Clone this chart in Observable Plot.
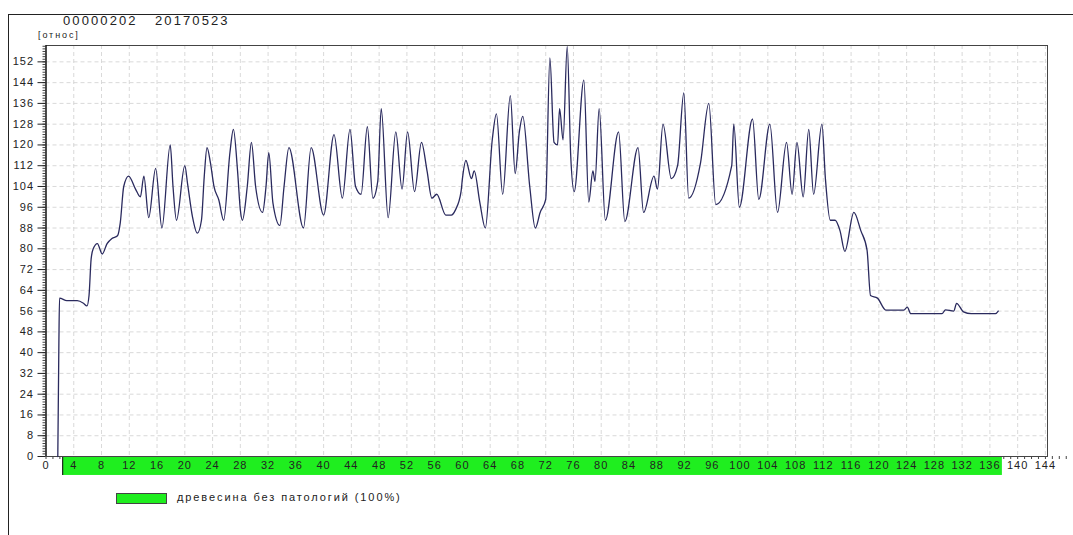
<!DOCTYPE html>
<html><head><meta charset="utf-8">
<script src="https://cdn.jsdelivr.net/npm/d3@7"></script>
<script src="https://cdn.jsdelivr.net/npm/@observablehq/plot@0.6"></script>
<style>
body{margin:0;background:#fff;font-family:Arial,"Liberation Sans",sans-serif;}
#wrap{position:relative;width:1073px;height:535px;overflow:hidden;background:#fff;}
#outer{position:absolute;left:8px;top:14px;width:1070px;height:530px;border-left:1px solid #222;border-top:1px solid #222;}
#chart{position:absolute;left:0;top:0;}
#chart svg text{letter-spacing:1px;}
.t{position:absolute;color:#222;white-space:nowrap;}
#title1{left:63px;top:13px;font-size:13px;letter-spacing:2.1px;}
#title2{left:155px;top:13px;font-size:13px;letter-spacing:2.1px;}
#unit{left:38px;top:30px;font-size:9px;letter-spacing:1.9px;}
#legbox{position:absolute;left:116px;top:493px;width:49px;height:9px;border:1px solid #444;}
#legtext{left:177px;top:491px;font-size:11px;letter-spacing:1.9px;}
</style></head>
<body>
<div id="wrap">
  <div id="outer"></div>
  <div id="chart"></div>
  <div class="t" id="title1"></div>
  <div class="t" id="title2"></div>
  <div class="t" id="unit"></div>
  <div id="legbox"></div>
  <div class="t" id="legtext"></div>
</div>
<script>
// ---- header texts
const headerId = "00000202";
const headerDate = "20170523";
const unitLabel = "[относ]";

// ---- series: position along sample (x) and relative value (y)
const posX = [1.7,1.85,1.95,3,4.5,5.4,5.9,6.2,6.5,6.8,7.4,8.1,8.8,9.5,10.3,10.7,11.2,11.9,12.9,13.6,14.1,14.8,15.8,16.7,17.9,18.3,18.8,20,20.4,21.1,21.8,22.4,22.8,23.2,23.7,24.2,24.9,25.6,26.5,27,27.6,28,28.3,29,29.6,30.2,31.2,31.7,32.1,32.7,33.7,34.3,35,37.1,38.2,40,41.5,42.7,43.8,44.6,45.4,46.3,47.1,47.8,48.3,49.3,50.4,51.3,52.1,53.1,54.1,54.9,55.6,56.3,57.6,58.4,59,59.8,60.0,60.5,61.3,61.7,62.5,63.3,64.3,64.9,65.8,66.9,67.6,68.2,68.7,69.7,70.5,71.2,72,72.6,73.2,73.7,74,74.5,75.1,75.6,76.1,77.5,78.2,78.8,79.1,79.7,80.6,82.5,83.4,85.3,86.1,87.6,88.1,88.9,90.1,91,91.9,92.6,94.3,95.5,96.5,98.8,99.1,99.9,101.8,102.7,104.3,105.4,106.7,107.5,108.2,109.1,109.9,110.6,111.8,112.3,113,113.7,114.4,115.1,116.4,117.4,118.3,118.8,119.8,121,123.6,124.1,124.6,129.1,129.6,130.8,131.2,132.2,133.3,136.8,137.2];
const value = [0,42,61,60,60,59,58,62,76,80,82,78,82,84,85,90,104,108,103,100,108,92,111,88,120,104,91,112,105,92.4,86,91,107.8,119,113,104,98.8,91,117,126,110,95,91,104,121,104,94,104,117,97.6,89,104,119,88,119,93,124,99.5,126,104,101,127,99.5,106,134,92,125,103,125,102,121,110,99.5,101,93,93,95,102,107,114,107,110,98,88,122,132,101,139,109,125,131,104,88,94,99,153.5,121,120,134,122,158,116,102,145,98,110,106,134,91,125,90.5,119,94,108,103,128,107,112,140,99.5,113,136,97,112,128,96,130,99,128,94,121,101,121,100,126,101,128,107,91,91,87,79,94,87,79.5,62,61,56.4,56.4,57.5,55,55,56.5,56,59,55.7,55,55,56];

// ---- classification band (legend)
const segLabel = ["древесина без патологий (100%)"];
const segStart = [2.4];
const segEnd = [137.8];
const segColor = ["#1fee1f"];

// ---- ticks
const xTicks = [0,4,8,12,16,20,24,28,32,36,40,44,48,52,56,60,64,68,72,76,80,84,88,92,96,100,104,108,112,116,120,124,128,132,136,140,144];
const yTicks = [0,8,16,24,32,40,48,56,64,72,80,88,96,104,112,120,128,136,144,152];

const series = posX.map((x, i) => ({x, y: value[i]}));
const segments = segLabel.map((label, i) => ({label, start: segStart[i], end: segEnd[i], color: segColor[i]}));
const xMinor = d3.range(0, 148, 1);
const yMinor = d3.range(0, 159, 1);

document.getElementById("title1").textContent = headerId;
document.getElementById("title2").textContent = headerDate;
document.getElementById("unit").textContent = unitLabel;
document.getElementById("legtext").textContent = segLabel[0];
document.getElementById("legbox").style.background = segColor[0];

const chart = Plot.plot({
  width: 1073,
  height: 535,
  marginLeft: 45.5,
  marginRight: 26,
  marginTop: 45,
  marginBottom: 79,
  style: {fontFamily: "Arial, 'Liberation Sans', sans-serif", fontSize: "11px", color: "#222", background: "transparent"},
  x: {domain: [0, 144.3]},
  y: {domain: [0, 158.3]},
  marks: [
    Plot.ruleX(xTicks.filter(d => d > 0), {stroke: "#cfcfcf", strokeDasharray: "4,3", strokeWidth: 0.8}),
    Plot.ruleY(yTicks.filter(d => d > 0), {stroke: "#cfcfcf", strokeDasharray: "4,3", strokeWidth: 0.8}),
    Plot.axisX({ticks: xMinor, tickSize: 3, text: null, label: null, stroke: "#444"}),
    Plot.axisY({ticks: yMinor, tickSize: 3, text: null, label: null, stroke: "#444"}),
    Plot.axisY({ticks: yTicks, tickSize: 8, tickPadding: 4, fontSize: 11, label: null, stroke: "#222"}),
    Plot.rect(segments, {x1: "start", x2: "end", y1: 0, y2: -7.3, fill: "color"}),
    Plot.ruleX(segments, {x: "start", y1: 0, y2: -7.3, stroke: "#222", strokeWidth: 1.2}),
    Plot.frame({stroke: "#444", strokeWidth: 1}),
    Plot.ruleX([0], {stroke: "#111", strokeWidth: 1.2}),
    Plot.line(series, {x: "x", y: "y", curve: "monotone-x", stroke: "#2a2a5e", strokeWidth: 1.3}),
    Plot.axisX({ticks: xTicks, tickSize: 0, tickPadding: 5, fontSize: 11, label: null, fill: "#222"})
  ]
});
document.getElementById("chart").appendChild(chart);
</script>
</body></html>
